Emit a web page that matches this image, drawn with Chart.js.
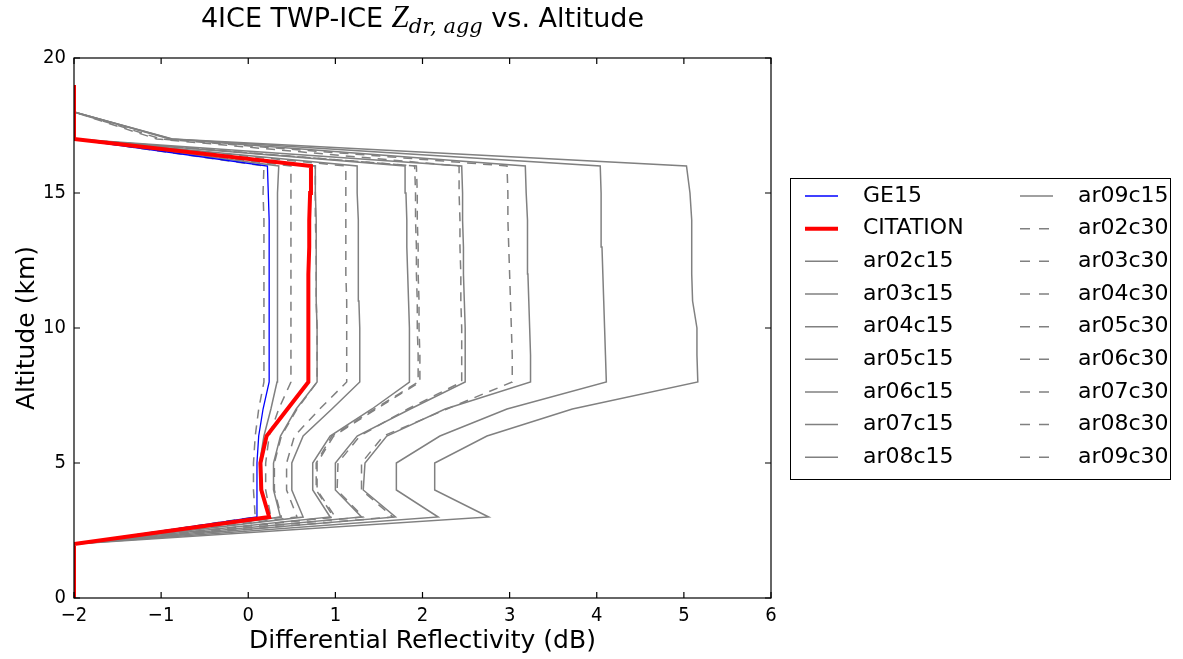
<!DOCTYPE html>
<html lang="en">
<head>
<meta charset="UTF-8">
<title>4ICE TWP-ICE Zdr vs. Altitude</title>
<script src="https://cdn.jsdelivr.net/npm/chart.js"></script>
<style>
  body { margin: 0; background: #fff; }
  #wrap { width: 1183px; height: 659px; }
</style>
</head>
<body>
<div id="wrap"><canvas id="zdrChart" width="1183" height="659"></canvas></div>
<script>
  // Altitude levels (km); -2 dB is the fill value where a profile has no data
  const altitudeKm = [0, 1, 2, 3, 4, 5, 6, 7, 8, 9, 10, 11, 12, 13, 14, 15, 16, 17, 18, 19];

  // Observed profiles (0-19 km)
  const ge15     = [-2, -2, -2, 0.10, 0.10, 0.10, 0.12, 0.17, 0.24, 0.24, 0.24, 0.24, 0.24, 0.24, 0.24, 0.23, 0.22, -2, -2, -2];
  const citation = [-2, -2, -2, 0.24, 0.15, 0.14, 0.21, 0.45, 0.69, 0.69, 0.69, 0.69, 0.69, 0.70, 0.70, 0.71, 0.72, -2, -2, -2];

  // Simulated aggregates, canting 15 deg (0-18 km)
  const ar02c15 = [-2, -2, -2, 2.76, 2.14, 2.14, 2.74, 3.72, 5.16, 5.15, 5.15, 5.10, 5.09, 5.09, 5.09, 5.07, 5.03, -0.87, -2];
  const ar03c15 = [-2, -2, -2, 2.18, 1.70, 1.70, 2.20, 2.97, 4.11, 4.10, 4.09, 4.08, 4.07, 4.06, 4.05, 4.05, 4.04, -0.88, -2];
  const ar04c15 = [-2, -2, -2, 1.69, 1.32, 1.34, 1.59, 2.26, 3.24, 3.24, 3.23, 3.22, 3.21, 3.21, 3.20, 3.19, 3.18, -0.90, -2];
  const ar05c15 = [-2, -2, -2, 1.30, 1.00, 1.00, 1.25, 1.86, 2.49, 2.49, 2.49, 2.48, 2.47, 2.47, 2.46, 2.46, 2.45, -2, -2];
  const ar06c15 = [-2, -2, -2, 0.94, 0.74, 0.74, 0.94, 1.42, 1.85, 1.85, 1.85, 1.84, 1.83, 1.82, 1.82, 1.81, 1.80, -2, -2];
  const ar07c15 = [-2, -2, -2, 0.63, 0.50, 0.50, 0.63, 0.96, 1.28, 1.28, 1.28, 1.27, 1.27, 1.26, 1.26, 1.25, 1.25, -2, -2];
  const ar08c15 = [-2, -2, -2, 0.37, 0.29, 0.29, 0.37, 0.55, 0.79, 0.79, 0.79, 0.78, 0.78, 0.78, 0.78, 0.77, 0.77, -2, -2];
  const ar09c15 = [-2, -2, -2, 0.24, 0.14, 0.13, 0.18, 0.26, 0.33, 0.33, 0.33, 0.33, 0.34, 0.34, 0.34, 0.34, 0.35, -2, -2];

  // Simulated aggregates, canting 30 deg (0-18 km)
  const ar02c30 = [-2, -2, -2, 1.66, 1.30, 1.30, 1.55, 2.28, 3.03, 3.03, 3.02, 3.01, 3.00, 2.99, 2.98, 2.98, 2.97, -1.00, -2];
  const ar03c30 = [-2, -2, -2, 1.32, 1.02, 1.03, 1.28, 1.83, 2.45, 2.45, 2.45, 2.44, 2.44, 2.43, 2.43, 2.42, 2.42, -1.05, -2];
  const ar04c30 = [-2, -2, -2, 1.00, 0.79, 0.79, 0.98, 1.47, 1.97, 1.97, 1.96, 1.96, 1.95, 1.95, 1.94, 1.94, 1.93, -2, -2];
  const ar05c30 = [-2, -2, -2, 0.98, 0.78, 0.78, 0.96, 1.45, 1.95, 1.95, 1.94, 1.94, 1.93, 1.93, 1.92, 1.92, 1.91, -2, -2];
  const ar06c30 = [-2, -2, -2, 0.56, 0.44, 0.44, 0.53, 0.82, 1.13, 1.13, 1.13, 1.13, 1.12, 1.12, 1.12, 1.12, 1.12, -2, -2];
  const ar07c30 = [-2, -2, -2, 0.38, 0.30, 0.30, 0.38, 0.56, 0.79, 0.79, 0.79, 0.78, 0.78, 0.78, 0.77, 0.77, 0.77, -2, -2];
  const ar08c30 = [-2, -2, -2, 0.26, 0.20, 0.20, 0.24, 0.35, 0.49, 0.49, 0.49, 0.49, 0.49, 0.49, 0.49, 0.49, 0.49, -2, -2];
  const ar09c30 = [-2, -2, -2, 0.08, 0.06, 0.06, 0.08, 0.12, 0.18, 0.18, 0.18, 0.18, 0.18, 0.18, 0.18, 0.17, 0.18, -2, -2];

  const xTicks = [-2, -1, 0, 1, 2, 3, 4, 5, 6];
  const yTicks = [0, 5, 10, 15, 20];

  const GRAY = '#808080';
  const DASH = [9, 7];

  function profile(values) {
    return values.map((v, i) => ({ x: v, y: altitudeKm[i] }));
  }

  function series(label, values, color, width, dash, order) {
    return {
      label: label,
      data: profile(values),
      showLine: true,
      borderColor: color,
      backgroundColor: color,
      borderWidth: width,
      borderDash: dash || [],
      pointRadius: 0,
      fill: false,
      clip: 0,
      order: order || 0
    };
  }

  // lower order is drawn on top: CITATION above GE15 above the simulations
  const datasets = [
    series('GE15', ge15, '#0000ff', 1.3, null, -1),
    series('CITATION', citation, '#ff0000', 4, null, -2),
    series('ar02c15', ar02c15, GRAY, 1.5),
    series('ar03c15', ar03c15, GRAY, 1.5),
    series('ar04c15', ar04c15, GRAY, 1.5),
    series('ar05c15', ar05c15, GRAY, 1.5),
    series('ar06c15', ar06c15, GRAY, 1.5),
    series('ar07c15', ar07c15, GRAY, 1.5),
    series('ar08c15', ar08c15, GRAY, 1.5),
    series('ar09c15', ar09c15, GRAY, 1.5),
    series('ar02c30', ar02c30, GRAY, 1.5, DASH),
    series('ar03c30', ar03c30, GRAY, 1.5, DASH),
    series('ar04c30', ar04c30, GRAY, 1.5, DASH),
    series('ar05c30', ar05c30, GRAY, 1.5, DASH),
    series('ar06c30', ar06c30, GRAY, 1.5, DASH),
    series('ar07c30', ar07c30, GRAY, 1.5, DASH),
    series('ar08c30', ar08c30, GRAY, 1.5, DASH),
    series('ar09c30', ar09c30, GRAY, 1.5, DASH)
  ];

  // Frame around the axes with inward tick marks on all four sides
  const framePlugin = {
    id: 'frame',
    afterDatasetsDraw(chart) {
      const { ctx, chartArea: a, scales } = chart;
      ctx.save();
      ctx.strokeStyle = '#000';
      ctx.lineWidth = 1.2;
      ctx.strokeRect(a.left, a.top, a.right - a.left, a.bottom - a.top);
      ctx.beginPath();
      xTicks.forEach(v => {
        const px = scales.x.getPixelForValue(v);
        ctx.moveTo(px, a.bottom); ctx.lineTo(px, a.bottom - 6);
        ctx.moveTo(px, a.top); ctx.lineTo(px, a.top + 6);
      });
      yTicks.forEach(v => {
        const py = scales.y.getPixelForValue(v);
        ctx.moveTo(a.left, py); ctx.lineTo(a.left + 6, py);
        ctx.moveTo(a.right, py); ctx.lineTo(a.right - 6, py);
      });
      ctx.stroke();
      ctx.restore();
    }
  };

  // Title with a math-style subscript
  const titlePlugin = {
    id: 'mathTitle',
    afterDraw(chart) {
      const { ctx, chartArea: a } = chart;
      const parts = [
        { t: '4ICE TWP-ICE ', f: '27px "DejaVu Sans"', dy: 0 },
        { t: 'Z', f: 'italic 31px "Liberation Serif"', dy: 0 },
        { t: 'dr, agg', f: 'italic 21px "DejaVu Serif"', dy: 6 },
        { t: ' vs. Altitude', f: '27px "DejaVu Sans"', dy: 0 }
      ];
      ctx.save();
      let total = 0;
      parts.forEach(p => { ctx.font = p.f; p.w = ctx.measureText(p.t).width; total += p.w; });
      let x = (a.left + a.right) / 2 - total / 2;
      ctx.fillStyle = '#000';
      ctx.textBaseline = 'alphabetic';
      ctx.textAlign = 'left';
      parts.forEach(p => {
        ctx.font = p.f;
        ctx.fillText(p.t, x, 27 + p.dy);
        x += p.w;
      });
      ctx.restore();
    }
  };

  // Two-column boxed legend to the right of the axes
  const legendPlugin = {
    id: 'boxLegend',
    afterDraw(chart) {
      const { ctx } = chart;
      const box = { left: 790, top: 178, right: 1170, bottom: 479 };
      const rowH = 32.66, firstRow = 196, perCol = 9;
      const cols = [{ line: 805, text: 863 }, { line: 1020, text: 1078 }];
      ctx.save();
      ctx.fillStyle = '#fff';
      ctx.fillRect(box.left, box.top, box.right - box.left, box.bottom - box.top);
      ctx.strokeStyle = '#000';
      ctx.lineWidth = 1;
      ctx.strokeRect(box.left + 0.5, box.top + 0.5, box.right - box.left, box.bottom - box.top);
      ctx.font = '22px "DejaVu Sans"';
      ctx.textBaseline = 'middle';
      ctx.fillStyle = '#000';
      chart.data.datasets.forEach((ds, i) => {
        const col = cols[Math.floor(i / perCol)];
        const y = firstRow + (i % perCol) * rowH;
        ctx.beginPath();
        ctx.strokeStyle = ds.borderColor;
        ctx.lineWidth = ds.borderWidth;
        ctx.setLineDash(ds.borderDash.length ? [10, 9] : []);
        ctx.moveTo(col.line, y);
        ctx.lineTo(col.line + 33, y);
        ctx.stroke();
        ctx.setLineDash([]);
        ctx.fillText(ds.label, col.text, y);
      });
      ctx.restore();
    }
  };

  const tickFont = { family: '"DejaVu Sans Condensed", "DejaVu Sans"', size: 20 };
  const axisFont = { family: '"DejaVu Sans"', size: 25 };

  new Chart(document.getElementById('zdrChart'), {
    type: 'scatter',
    data: { datasets: datasets },
    options: {
      responsive: false,
      animation: false,
      layout: { padding: { left: 0, right: 412, top: 58, bottom: 0 } },
      plugins: { legend: { display: false }, tooltip: { enabled: false } },
      scales: {
        x: {
          type: 'linear',
          min: -2,
          max: 6,
          afterBuildTicks: s => { s.ticks = xTicks.map(v => ({ value: v })); },
          afterFit: s => { s.height = 61; },
          ticks: {
            color: '#000',
            font: tickFont,
            padding: 6,
            maxRotation: 0,
            callback: v => (v < 0 ? '\u2212' + Math.abs(v) : String(v))
          },
          grid: { display: false, drawTicks: false },
          border: { display: false },
          title: { display: true, text: 'Differential Reflectivity (dB)', color: '#000', font: axisFont, padding: { top: 0, bottom: 3 } }
        },
        y: {
          type: 'linear',
          min: 0,
          max: 20,
          afterBuildTicks: s => { s.ticks = yTicks.map(v => ({ value: v })); },
          afterFit: s => { s.width = 74; },
          ticks: { color: '#000', font: tickFont, padding: 8 },
          grid: { display: false, drawTicks: false },
          border: { display: false },
          title: { display: true, text: 'Altitude (km)', color: '#000', font: axisFont, padding: { top: 12, bottom: 0 } }
        }
      }
    },
    plugins: [framePlugin, titlePlugin, legendPlugin]
  });
</script>
</body>
</html>
